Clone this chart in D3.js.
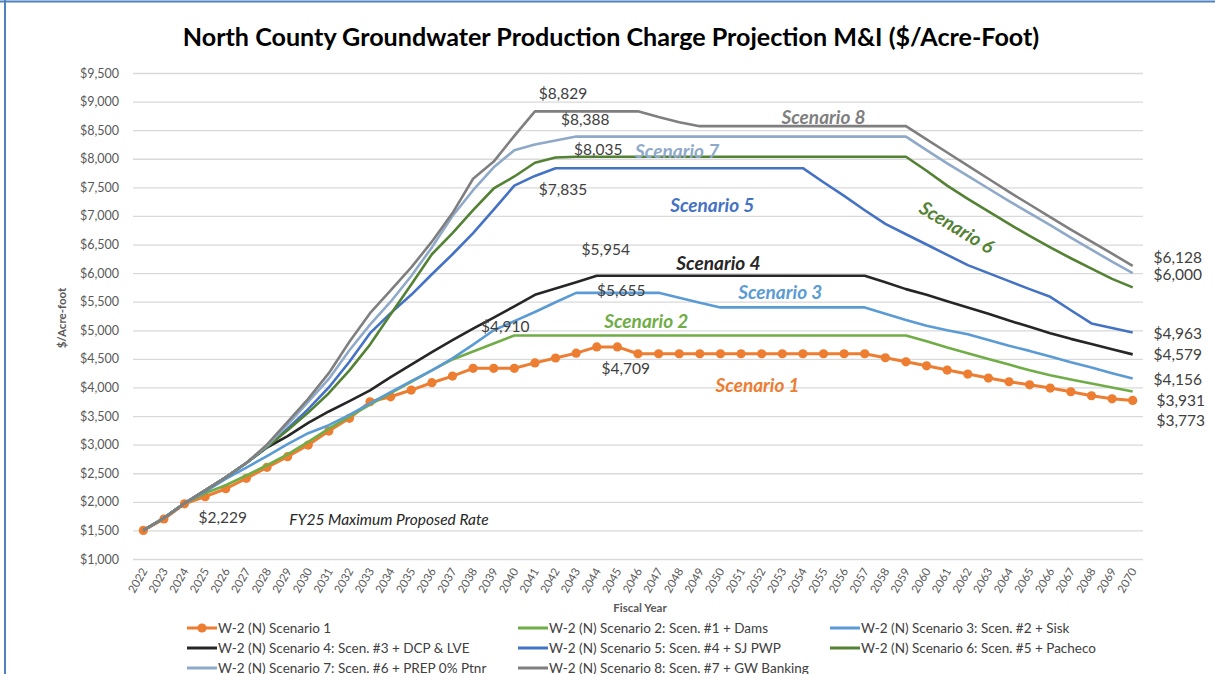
<!DOCTYPE html>
<html>
<head>
<meta charset="utf-8">
<script src="https://cdn.jsdelivr.net/npm/d3@7"></script>
<style>
  body { margin: 0; background: #fff; }
  svg { display: block; font-family: Lato, "Open Sans", sans-serif; }
</style>
</head>
<body>
<div id="chart"></div>
<script>
const years = d3.range(2022, 2071)

const rep = (v, n) => Array(n).fill(v)

const scenario1 = [1500, 1700, 1965, 2090, 2229, 2411, 2603, 2790, 2993, 3238, 3460, 3750, 3837, 3955, 4083, 4199,
    4335, 4335, 4335, 4430, 4515, 4600, 4709, 4709, ...rep(4590, 12),
    4520, 4449, 4379, 4304, 4234, 4164, 4100, 4047, 3990, 3925, 3855, 3802, 3773]

const scenario2 = [1500, 1717, 1975, 2150, 2290, 2460, 2640, 2830, 3050, 3280, 3490, 3700, 3900, 4100, 4300, 4490,
    4630, 4770, 4910, ...rep(4910, 19),
    4810, 4700, 4600, 4500, 4400, 4300, 4215, 4140, 4070, 4000, 3931]

const scenario3 = [1500, 1717, 1975, 2180, 2400, 2600, 2800, 3010, 3200, 3340, 3520, 3720, 3920, 4110, 4300, 4510,
    4750, 5000, 5160, 5320, 5490, 5655, 5655, 5655, 5655, 5655, 5570, 5480, 5400, ...rep(5400, 7),
    5290, 5180, 5080, 5000, 4930, 4830, 4730, 4640, 4540, 4440, 4350, 4250, 4156]

const scenario4 = [1500, 1717, 1975, 2200, 2430, 2680, 2950, 3150, 3380, 3580, 3760, 3950, 4180, 4400, 4620, 4830,
    5030, 5220, 5420, 5620, 5730, 5840, 5954, ...rep(5954, 13),
    5840, 5720, 5620, 5510, 5400, 5290, 5170, 5060, 4950, 4850, 4760, 4670, 4579]

const scenario5 = [1500, 1717, 1975, 2200, 2430, 2680, 2960, 3280, 3620, 4000, 4450, 4950, 5300, 5620, 5980, 6330,
    6700, 7110, 7530, 7700, 7835, ...rep(7835, 12),
    7590, 7350, 7100, 6860, 6680, 6500, 6320, 6140, 6000, 5860, 5720, 5586, 5350, 5120, 5040, 4963]

const scenario6 = [1500, 1717, 1975, 2200, 2430, 2680, 2960, 3250, 3560, 3900, 4300, 4750, 5280, 5800, 6330, 6700,
    7100, 7480, 7690, 7930, 8022, ...rep(8035, 17),
    7790, 7530, 7300, 7080, 6860, 6650, 6450, 6260, 6080, 5900, 5750]

const scenario7 = [1500, 1717, 1975, 2200, 2430, 2680, 2980, 3350, 3750, 4150, 4650, 5100, 5500, 5950, 6450, 7000,
    7450, 7850, 8150, 8250, 8320, 8388, ...rep(8388, 16),
    8150, 7920, 7700, 7480, 7260, 7050, 6840, 6620, 6410, 6200, 6000]

const scenario8 = [1500, 1717, 1975, 2200, 2430, 2680, 3000, 3400, 3800, 4250, 4800, 5300, 5700, 6100, 6550, 7050,
    7650, 7950, 8400, 8829, ...rep(8829, 5), 8730, 8640, ...rep(8570, 11),
    8340, 8110, 7880, 7650, 7420, 7200, 6980, 6760, 6550, 6340, 6128]

const seriesNames = [
    "W-2 (N) Scenario 1",
    "W-2 (N) Scenario 2: Scen. #1 + Dams",
    "W-2 (N) Scenario 3: Scen. #2 + Sisk",
    "W-2 (N) Scenario 4: Scen. #3 + DCP & LVE",
    "W-2 (N) Scenario 5: Scen. #4 + SJ PWP",
    "W-2 (N) Scenario 6: Scen. #5 + Pacheco",
    "W-2 (N) Scenario 7: Scen. #6 + PREP 0% Ptnr",
    "W-2 (N) Scenario 8: Scen. #7 + GW Banking"
]
const seriesValues = [scenario1, scenario2, scenario3, scenario4, scenario5, scenario6, scenario7, scenario8]
const colors = ["#ED7D31", "#70AD47", "#5B9BD5", "#262626", "#4472C4", "#548235", "#8FA9C9", "#7F7F7F"]

const yTicks = d3.range(1000, 9501, 500)

const W = 1215, H = 674

const svg = d3.select("#chart").append("svg")
    .attr("width", W)
    .attr("height", H)

svg.append("rect").attr("width", W).attr("height", H).attr("fill", "#fff")

// chart frame (left/top edges visible in the screenshot)
svg.append("line").attr("x1", 0).attr("x2", W).attr("y1", 1.5).attr("y2", 1.5)
    .attr("stroke", "#4F81BD").attr("stroke-width", 2)
svg.append("line").attr("x1", 5).attr("x2", 5).attr("y1", 0).attr("y2", H)
    .attr("stroke", "#4F81BD").attr("stroke-width", 2)

const plot = { left: 133, right: 1143, top: 73, bottom: 559 }

const x = d3.scalePoint()
    .domain(years)
    .range([plot.left, plot.right])
    .padding(0.5)

const y = d3.scaleLinear()
    .domain([1000, 9500])
    .range([plot.bottom, plot.top])

// title
const title = svg.append("text")
    .attr("x", 611)
    .attr("y", 46)
    .attr("text-anchor", "middle")
    .attr("font-weight", "bold")
    .attr("font-size", 26)
    .attr("fill", "#000")
    .text("North County Groundwater Production Charge Projection M&I ($/Acre-Foot)")
const tw = title.node().getComputedTextLength()
title.attr("font-size", 26 * 857 / tw)

// y axis + gridlines
const yAxis = d3.axisLeft(y)
    .tickValues(yTicks)
    .tickSize(-(plot.right - plot.left))
    .tickPadding(14)
    .tickFormat(d => "$" + d3.format(",")(d))

const yg = svg.append("g")
    .attr("transform", `translate(${plot.left}, 0)`)
    .call(yAxis)
yg.select(".domain").remove()
yg.selectAll(".tick line").attr("stroke", "#D9D9D9").attr("stroke-width", 1.3)
yg.selectAll(".tick text").attr("fill", "#595959").attr("font-size", 12.5)
    .attr("font-family", "Lato, sans-serif")

// x axis labels
const xg = svg.append("g")
    .attr("transform", `translate(0, ${plot.bottom})`)
    .call(d3.axisBottom(x).tickSize(0).tickFormat(d3.format("d")))
xg.select(".domain").remove()
xg.selectAll(".tick text")
    .attr("fill", "#595959")
    .attr("font-size", 11.5)
    .attr("font-family", "Lato, sans-serif")
    .attr("text-anchor", "end")
    .attr("dy", 0)
    .attr("y", 0)
    .attr("transform", "translate(4, 12) rotate(-60)")

// axis titles
svg.append("text")
    .attr("x", 640).attr("y", 612)
    .attr("text-anchor", "middle")
    .attr("font-size", 11.5).attr("font-weight", "bold")
    .attr("fill", "#595959")
    .text("Fiscal Year")

svg.append("text")
    .attr("transform", "translate(66, 318) rotate(-90)")
    .attr("text-anchor", "middle")
    .attr("font-size", 11.5).attr("font-weight", "bold")
    .attr("fill", "#595959")
    .text("$/Acre-foot")

// lines
const line = d3.line()
    .x((d, i) => x(years[i]))
    .y(d => y(d))

const lines = svg.append("g")
seriesValues.forEach((vals, si) => {
    lines.append("path")
        .datum(vals)
        .attr("d", line)
        .attr("fill", "none")
        .attr("stroke", colors[si])
        .attr("stroke-width", si === 0 ? 3 : 2.6)
        .attr("stroke-linejoin", "round")
    if (si === 0) {
        lines.selectAll(".dot")
            .data(vals)
            .join("circle")
            .attr("class", "dot")
            .attr("cx", (d, i) => x(years[i]))
            .attr("cy", d => y(d))
            .attr("r", 4.6)
            .attr("fill", colors[0])
    }
})

// scenario labels (fractional year / value of the text baseline centre)
const scenLabels = [
    { t: "Scenario 8", yr: 2055, v: 8605, c: colors[7] },
    { t: "Scenario 7", yr: 2047.9, v: 8010, c: colors[6] },
    { t: "Scenario 5", yr: 2049.6, v: 7066, c: colors[4] },
    { t: "Scenario 4", yr: 2049.9, v: 6052, c: "#262626" },
    { t: "Scenario 3", yr: 2052.9, v: 5545, c: colors[2] },
    { t: "Scenario 2", yr: 2046.4, v: 5038, c: colors[1] },
    { t: "Scenario 1", yr: 2051.8, v: 3920, c: colors[0] }
]
const xr = yr => x(2022) + (yr - 2022) * x.step()
svg.append("g").selectAll("text")
    .data(scenLabels)
    .join("text")
    .attr("x", d => xr(d.yr))
    .attr("y", d => y(d.v))
    .attr("text-anchor", "middle")
    .attr("font-size", 19)
    .attr("font-weight", "bold")
    .attr("font-style", "italic")
    .attr("fill", d => d.c)
    .text(d => d.t)

svg.append("text")
    .attr("transform", `translate(${xr(2061.3)}, ${y(6700)}) rotate(31)`)
    .attr("text-anchor", "middle")
    .attr("font-size", 19)
    .attr("font-weight", "bold")
    .attr("font-style", "italic")
    .attr("fill", colors[5])
    .text("Scenario 6")

// value labels
const valLabels = [
    { t: "$8,829", yr: 2041, v: 8829, dx: 28, dy: -12 },
    { t: "$8,388", yr: 2043, v: 8388, dx: 9, dy: -12 },
    { t: "$8,035", yr: 2043, v: 8035, dx: 22, dy: -2 },
    { t: "$7,835", yr: 2041, v: 7835, dx: 28, dy: 27 },
    { t: "$5,954", yr: 2044, v: 5954, dx: 9, dy: -21 },
    { t: "$5,655", yr: 2043, v: 5655, dx: 45, dy: 3 },
    { t: "$4,910", yr: 2040, v: 4910, dx: -9, dy: -3 },
    { t: "$4,709", yr: 2044, v: 4709, dx: 29, dy: 27 },
    { t: "$2,229", yr: 2026, v: 2229, dx: -3, dy: 34 },
    { t: "$6,128", yr: 2070, v: 6128, dx: 45, dy: -3 },
    { t: "$6,000", yr: 2070, v: 6000, dx: 45, dy: 7 },
    { t: "$4,963", yr: 2070, v: 4963, dx: 45, dy: 7 },
    { t: "$4,579", yr: 2070, v: 4579, dx: 45, dy: 6 },
    { t: "$4,156", yr: 2070, v: 4156, dx: 45, dy: 6 },
    { t: "$3,931", yr: 2070, v: 3931, dx: 48, dy: 15 },
    { t: "$3,773", yr: 2070, v: 3773, dx: 48, dy: 26 }
]
svg.append("g").selectAll("text")
    .data(valLabels)
    .join("text")
    .attr("x", d => x(d.yr) + d.dx)
    .attr("y", d => y(d.v) + d.dy)
    .attr("text-anchor", "middle")
    .attr("font-size", 15.5)
    .attr("fill", "#404040")
    .text(d => d.t)

svg.append("text")
    .attr("x", 389).attr("y", 525)
    .attr("text-anchor", "middle")
    .attr("font-size", 15.5)
    .attr("font-style", "italic")
    .attr("fill", "#262626")
    .text("FY25 Maximum Proposed Rate")

// legend
const legendCols = [187, 518, 830]
const legendRows = [628, 648, 668]
const legend = svg.append("g")
seriesNames.forEach((name, i) => {
    const lx = legendCols[i % 3]
    const ly = legendRows[Math.floor(i / 3)]
    const g = legend.append("g").attr("transform", `translate(${lx}, ${ly})`)
    g.append("line")
        .attr("x1", 0).attr("x2", 30)
        .attr("stroke", colors[i])
        .attr("stroke-width", 3)
    if (i === 0) {
        g.append("circle").attr("cx", 15).attr("r", 4.6).attr("fill", colors[0])
    }
    g.append("text")
        .attr("x", 31)
        .attr("y", 4.5)
        .attr("font-size", 13.5)
        .attr("fill", "#404040")
        .text(name)
})
</script>
</body>
</html>
